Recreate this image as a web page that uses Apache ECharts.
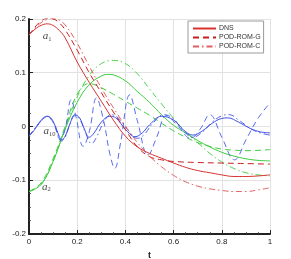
<!DOCTYPE html>
<html><head><meta charset="utf-8">
<script src="https://cdn.jsdelivr.net/npm/echarts@6/dist/echarts.min.js"></script>
<style>html,body{margin:0;padding:0;background:#fff}#c{width:291px;height:259px}</style>
</head><body><div id="c"></div>
<script>
// ---- data (t, value) ----
const xTicks = [0, 0.2, 0.4, 0.6, 0.8, 1];
const yTicks = [-0.2, -0.1, 0, 0.1, 0.2];
const legendNames = ['DNS', 'POD-ROM-G', 'POD-ROM-C'];

const a1DNS = [[0,0.170],[0.025,0.181],[0.05,0.188],[0.075,0.191],[0.1,0.188],[0.125,0.179],[0.15,0.165],[0.2,0.120],[0.25,0.082],[0.3,0.047],[0.35,0.012],[0.4,-0.018],[0.45,-0.038],[0.5,-0.050],[0.55,-0.059],[0.6,-0.068],[0.65,-0.076],[0.7,-0.082],[0.75,-0.086],[0.8,-0.090],[0.85,-0.093],[0.9,-0.093],[0.95,-0.092],[1,-0.090]];
const a1G = [[0,0.170],[0.025,0.185],[0.05,0.196],[0.075,0.201],[0.1,0.200],[0.125,0.193],[0.15,0.180],[0.2,0.142],[0.25,0.100],[0.3,0.063],[0.35,0.027],[0.4,-0.006],[0.45,-0.038],[0.5,-0.056],[0.55,-0.062],[0.6,-0.065],[0.7,-0.067],[0.8,-0.068],[0.9,-0.069],[1,-0.070]];
const a1C = [[0,0.170],[0.025,0.183],[0.05,0.193],[0.075,0.199],[0.1,0.201],[0.125,0.198],[0.15,0.189],[0.2,0.155],[0.25,0.112],[0.3,0.072],[0.35,0.035],[0.4,0.001],[0.45,-0.030],[0.5,-0.055],[0.55,-0.075],[0.6,-0.091],[0.65,-0.103],[0.7,-0.111],[0.75,-0.116],[0.8,-0.119],[0.85,-0.121],[0.9,-0.121],[0.95,-0.118],[1,-0.114]];

const a2DNS = [[0,-0.121],[0.05,-0.108],[0.1,-0.065],[0.15,-0.005],[0.2,0.045],[0.25,0.078],[0.3,0.094],[0.33,0.097],[0.35,0.096],[0.4,0.085],[0.45,0.065],[0.5,0.045],[0.55,0.022],[0.6,0.002],[0.65,-0.012],[0.7,-0.026],[0.75,-0.038],[0.8,-0.048],[0.85,-0.055],[0.9,-0.060],[0.95,-0.063],[1,-0.064]];
const a2G = [[0,-0.121],[0.05,-0.105],[0.1,-0.060],[0.15,0.000],[0.2,0.060],[0.25,0.080],[0.3,0.072],[0.35,0.060],[0.4,0.047],[0.45,0.034],[0.5,0.021],[0.55,0.006],[0.6,-0.008],[0.65,-0.020],[0.7,-0.030],[0.75,-0.037],[0.8,-0.042],[0.85,-0.044],[0.9,-0.045],[1,-0.043]];
const a2C = [[0,-0.121],[0.05,-0.108],[0.1,-0.065],[0.15,-0.003],[0.2,0.055],[0.25,0.095],[0.3,0.117],[0.35,0.123],[0.4,0.117],[0.45,0.098],[0.5,0.070],[0.55,0.042],[0.6,0.015],[0.65,-0.010],[0.7,-0.030],[0.75,-0.050],[0.8,-0.066],[0.85,-0.078],[0.9,-0.086],[0.95,-0.090],[1,-0.092]];

const a10DNS = [[0,-0.018],[0.02,-0.008],[0.04,0.006],[0.06,0.016],[0.075,0.019],[0.09,0.016],[0.105,0.005],[0.12,-0.012],[0.135,-0.025],[0.15,-0.018],[0.17,0.005],[0.19,0.022],[0.21,0.016],[0.23,-0.005],[0.25,-0.020],[0.27,-0.012],[0.3,0.008],[0.335,0.019],[0.36,0.016],[0.4,-0.005],[0.44,-0.019],[0.47,-0.012],[0.5,0.003],[0.55,0.019],[0.6,0.012],[0.64,-0.006],[0.68,-0.016],[0.72,-0.008],[0.76,0.006],[0.8,0.015],[0.825,0.016],[0.87,0.008],[0.92,-0.004],[0.96,-0.010],[1,-0.012]];
const a10G = [[0,-0.018],[0.04,0.004],[0.075,0.018],[0.1,0.008],[0.13,-0.024],[0.15,-0.005],[0.175,0.050],[0.195,0.018],[0.225,-0.037],[0.25,-0.010],[0.28,0.053],[0.31,0.010],[0.335,-0.050],[0.356,-0.078],[0.38,-0.030],[0.418,0.059],[0.45,0.010],[0.494,-0.053],[0.53,-0.020],[0.57,0.020],[0.62,0.000],[0.67,-0.022],[0.71,-0.005],[0.75,0.022],[0.8,-0.020],[0.853,-0.062],[0.9,-0.025],[0.95,0.015],[1,0.044]];
const a10C = [[0,-0.018],[0.04,0.005],[0.075,0.019],[0.105,0.004],[0.135,-0.027],[0.15,-0.020],[0.17,0.004],[0.19,0.020],[0.21,0.014],[0.235,-0.012],[0.26,-0.032],[0.28,-0.020],[0.31,0.008],[0.34,0.022],[0.37,0.016],[0.41,-0.006],[0.45,-0.022],[0.48,-0.014],[0.51,0.004],[0.56,0.022],[0.6,0.014],[0.64,-0.008],[0.68,-0.020],[0.72,-0.010],[0.76,0.008],[0.8,0.020],[0.83,0.022],[0.87,0.012],[0.92,-0.004],[0.96,-0.012],[1,-0.016]];

// curve labels: t, value, base, subscript
const curveLabels = [[0.075,0.168,'a','1'],[0.085,-0.008,'a','10'],[0.072,-0.112,'a','2']];

const RED = '#d83232', GREEN = '#3ccc3c', BLUE = '#3f52e6';
const DASH = [6,4], DASHDOT = [6,3,1.5,3];

function line(name, data, color, type, opacity) {
  return {
    name: name, type: 'line', data: data, smooth: 0.4, showSymbol: false, symbol: 'none',
    silent: true, animation: false,
    lineStyle: { color: color, width: 1, type: type, opacity: opacity },
    itemStyle: { color: color }
  };
}

const chart = echarts.init(document.getElementById('c'), null, { renderer: 'canvas' });
chart.setOption({
  animation: false,
  backgroundColor: '#fff',
  grid: { left: 29, right: 21, top: 19, bottom: 25, containLabel: false, outerBoundsMode: 'none' },
  legend: {
    data: legendNames.map(n => ({ name: n })),
    orient: 'vertical', left: 188, top: 21,
    padding: [4, 3, 3, 4], itemGap: 2, itemWidth: 23, itemHeight: 8,
    borderColor: '#9a9a9a', borderWidth: 1, backgroundColor: '#fff',
    itemStyle: { opacity: 0 },
    textStyle: { fontSize: 7, color: '#333', fontFamily: 'Liberation Sans', padding: [0,0,0,-2] },
    selectedMode: false
  },
  xAxis: {
    type: 'value', min: 0, max: 1, interval: 0.2,
    name: 't', nameLocation: 'middle', nameGap: 15,
    nameTextStyle: { fontSize: 9, fontWeight: 'bold', color: '#222', fontFamily: 'Liberation Sans' },
    axisLine: { show: true, onZero: false, lineStyle: { color: '#222', width: 2 } },
    axisTick: { show: true, inside: true, length: 4, lineStyle: { color: '#222', width: 1 } },
    minorTick: { show: true, splitNumber: 4, length: 2, lineStyle: { color: '#444', width: 0.8 } },
    axisLabel: { fontSize: 8, color: '#222', margin: 4, fontFamily: 'Liberation Sans',
      formatter: v => { const t = xTicks.find(x => Math.abs(x - v) < 1e-9); return t === undefined ? '' : String(t); } },
    splitLine: { show: true, lineStyle: { color: '#e2e2e2', width: 1 } }
  },
  yAxis: {
    type: 'value', min: -0.2, max: 0.2, interval: 0.1,
    name: 'a', nameLocation: 'middle', nameGap: 20, nameRotate: 90,
    nameTextStyle: { fontSize: 10, fontWeight: 'bold', fontStyle: 'italic', color: '#222', fontFamily: 'Liberation Serif' },
    axisLine: { show: true, onZero: false, lineStyle: { color: '#222', width: 2 } },
    axisTick: { show: true, inside: true, length: 4, lineStyle: { color: '#222', width: 1 } },
    minorTick: { show: true, splitNumber: 4, length: 2, lineStyle: { color: '#444', width: 0.8 } },
    axisLabel: { fontSize: 8, color: '#222', margin: 3, fontFamily: 'Liberation Sans',
      formatter: v => { const t = yTicks.find(y => Math.abs(y - v) < 1e-9); return t === undefined ? '' : String(t); } },
    splitLine: { show: true, lineStyle: { color: '#e2e2e2', width: 1 } }
  },
  series: [
    line('a2 DNS', a2DNS, GREEN, 'solid', 1),
    line('a2 G', a2G, GREEN, DASH, 1),
    line('a2 C', a2C, GREEN, DASHDOT, 0.9),
    line('a10 DNS', a10DNS, BLUE, 'solid', 1),
    line('a10 G', a10G, '#5a6cf0', DASH, 1),
    line('a10 C', a10C, BLUE, DASHDOT, 0.9),
    line('DNS', a1DNS, RED, 'solid', 1),
    line('POD-ROM-G', a1G, '#c81e1e', DASH, 1),
    line('POD-ROM-C', a1C, '#e26060', DASHDOT, 1),
    {
      name: 'labels', type: 'scatter', symbolSize: 0, silent: true, animation: false,
      data: curveLabels.map(d => ({ value: [d[0], d[1]], base: d[2], sub: d[3] })),
      label: {
        show: true, position: 'inside',
        formatter: p => '{a|' + p.data.base + '}{s|' + p.data.sub + '}',
        rich: {
          a: { fontFamily: 'Liberation Serif', fontStyle: 'italic', fontSize: 11, color: '#111', lineHeight: 12, verticalAlign: 'middle' },
          s: { fontFamily: 'Liberation Serif', fontSize: 6.5, color: '#111', padding: [6, 0, 0, 0], lineHeight: 12, verticalAlign: 'middle' }
        }
      }
    }
  ]
});
</script>
</body></html>
